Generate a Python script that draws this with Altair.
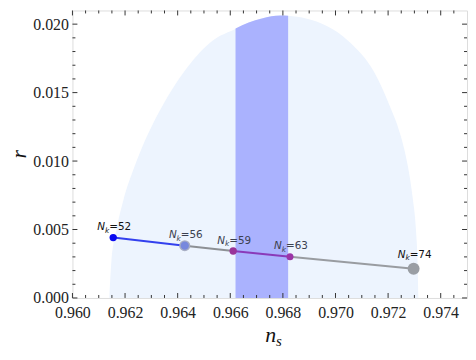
import altair as alt
import pandas as pd

# ---- data ----
# light contour region: upper boundary r(n_s), closed down to r = 0
reg_x = [0.96140, 0.96148, 0.96167, 0.96195, 0.96235, 0.96284, 0.96345, 0.96421,
         0.96529, 0.96621, 0.96670, 0.96719, 0.96756, 0.96793, 0.96818, 0.96965,
         0.97051, 0.97149, 0.97204, 0.97248, 0.97276, 0.97294, 0.97306, 0.97312, 0.97315]
reg_top = [0.0, 0.00264, 0.00494, 0.00724, 0.00954, 0.01184, 0.01414, 0.01643,
           0.01874, 0.01966, 0.02012, 0.02041, 0.02057, 0.02064, 0.02062, 0.01988,
           0.01874, 0.01643, 0.01414, 0.01184, 0.00954, 0.00724, 0.00494, 0.00264, 0.0]

# darker vertical band, clipped by the contour top
band_x = [0.9662, 0.9667, 0.9672, 0.96756, 0.9679, 0.9682]
band_top = [0.01968, 0.02012, 0.02041, 0.02057, 0.02064, 0.02062]

# model points
nk = [52, 56, 59, 63, 74]
ns = [0.96155, 0.96427, 0.96611, 0.96827, 0.97297]
rr = [0.00441, 0.00382, 0.00343, 0.00301, 0.00214]

# styles
pt_color = ["#0a0af0", "#7788dd", "#993399", "#9b35a8", "#9a9ea4"]
pt_size = [55, 70, 55, 50, 145]
halo_size = [0, 125, 0, 0, 0]
label_color = ["#111111", "#3c4150", "#3c4150", "#3c4150", "#111111"]
seg_color = ["#3340ee", "#8d9095", "#8a3ab9", "#999ca1"]

x_major = [0.960, 0.962, 0.964, 0.966, 0.968, 0.970, 0.972, 0.974]
x_minor = [0.9605, 0.961, 0.9615, 0.9625, 0.963, 0.9635, 0.9645, 0.965, 0.9655,
           0.9665, 0.967, 0.9675, 0.9685, 0.969, 0.9695, 0.9705, 0.971, 0.9715,
           0.9725, 0.973, 0.9735, 0.9745]
y_major = [0.000, 0.005, 0.010, 0.015, 0.020]
y_minor = [0.001, 0.002, 0.003, 0.004, 0.006, 0.007, 0.008, 0.009, 0.011, 0.012,
           0.013, 0.014, 0.016, 0.017, 0.018, 0.019]

SERIF = "Liberation Serif"
W, H = 398, 290
XDOM = [0.960, 0.975]
YDOM = [0.0, 0.021]

xs = alt.Scale(domain=XDOM, nice=False, zero=False)
ys = alt.Scale(domain=YDOM, nice=False, zero=False)
xax = alt.Axis(values=x_major, format=".3f", title=None, grid=False, ticks=False,
               tickSize=0, domain=False, labelPadding=7, labelFont=SERIF,
               labelFontSize=16, labelColor="#222222", labelFlush=False)
yax = alt.Axis(values=y_major, format=".3f", title=None, grid=False, ticks=False,
               tickSize=0, domain=False, labelPadding=4, labelFont=SERIF,
               labelFontSize=16, labelColor="#222222", labelFlush=False)


def X(f):
    return alt.X(f, type="quantitative", scale=xs, axis=xax)


def Y(f):
    return alt.Y(f, type="quantitative", scale=ys, axis=yax)


region_df = pd.DataFrame({"x": reg_x, "top": reg_top})
band_df = pd.DataFrame({"x": band_x, "top": band_top})
pts_df = pd.DataFrame({"nk": nk, "ns": ns, "r": rr, "color": pt_color, "size": pt_size,
                       "halo": halo_size, "lcolor": label_color,
                       "eq": ["=" + str(v) for v in nk]})

seg_rows = []
for i in range(len(nk) - 1):
    for j in (i, i + 1):
        seg_rows.append({"seg": i, "ns": ns[j], "r": rr[j], "color": seg_color[i], "o": j})
seg_df = pd.DataFrame(seg_rows)

region = alt.Chart(region_df).mark_area(color="#edf4fe", interpolate="monotone").encode(
    x=X("x"), y=Y("top"))
band = alt.Chart(band_df).mark_area(color="#aab2fe", interpolate="monotone").encode(
    x=X("x"), y=Y("top"))

lines = alt.Chart(seg_df).mark_line(strokeWidth=2).encode(
    x=X("ns"), y=Y("r"), detail="seg:N", order="o:Q",
    color=alt.Color("color:N", scale=None))

halo = alt.Chart(pts_df).transform_filter("datum.halo > 0").mark_circle(
    opacity=1, color="#a8aec4").encode(
    x=X("ns"), y=Y("r"), size=alt.Size("halo:Q", scale=None))
pts = alt.Chart(pts_df).mark_circle(opacity=1).encode(
    x=X("ns"), y=Y("r"), color=alt.Color("color:N", scale=None),
    size=alt.Size("size:Q", scale=None))


def label_layers(filt, dy):
    base = alt.Chart(pts_df).transform_filter(filt)
    enc = dict(x=X("ns"), y=Y("r"), color=alt.Color("lcolor:N", scale=None))
    n = base.mark_text(font="DejaVu Sans", fontStyle="italic", fontSize=10.5, align="left",
                       baseline="alphabetic", dx=-16, dy=dy).encode(text=alt.value("N"), **enc)
    k = base.mark_text(font="DejaVu Sans", fontStyle="italic", fontSize=7.5, align="left",
                       baseline="alphabetic", dx=-8.3, dy=dy + 2.5).encode(text=alt.value("k"), **enc)
    e = base.mark_text(font="DejaVu Sans", fontSize=10.5, align="left",
                       baseline="alphabetic", dx=-4, dy=dy).encode(text="eq:N", **enc)
    return [n, k, e]


labels = label_layers("datum.nk < 70", -7.5) + label_layers("datum.nk > 70", -11)

# inward ticks on all four sides
xmaj_df = pd.DataFrame({"v": x_major})
xmin_df = pd.DataFrame({"v": x_minor})
ymaj_df = pd.DataFrame({"v": y_major})
ymin_df = pd.DataFrame({"v": y_minor})
tick_layers = []
for df, L in ((xmaj_df, 5), (xmin_df, 3)):
    c = alt.Chart(df).mark_rule(color="#333333", strokeWidth=1)
    tick_layers.append(c.encode(x=X("v"), y=alt.value(H), y2=alt.value(H - L)))
    tick_layers.append(c.encode(x=X("v"), y=alt.value(0), y2=alt.value(L)))
for df, L in ((ymaj_df, 5), (ymin_df, 3)):
    c = alt.Chart(df).mark_rule(color="#333333", strokeWidth=1)
    tick_layers.append(c.encode(y=Y("v"), x=alt.value(0), x2=alt.value(L)))
    tick_layers.append(c.encode(y=Y("v"), x=alt.value(W), x2=alt.value(W - L)))

# axis titles
rtitle = alt.Chart(pts_df.head(1)).mark_text(
    font=SERIF, fontStyle="italic", fontSize=22, angle=270,
    align="center", baseline="middle", color="#111111").encode(
    x=alt.value(-54), y=alt.value(H / 2), text=alt.value("r"))
ntitle = alt.Chart(pts_df.head(1)).mark_text(
    font=SERIF, fontStyle="italic", fontSize=22, align="right",
    baseline="alphabetic", color="#111111").encode(
    x=alt.value(W * 0.516), y=alt.value(H + 44), text=alt.value("n"))
stitle = alt.Chart(pts_df.head(1)).mark_text(
    font=SERIF, fontStyle="italic", fontSize=15, align="left",
    baseline="alphabetic", color="#111111").encode(
    x=alt.value(W * 0.516), y=alt.value(H + 48), text=alt.value("s"))

chart = alt.layer(region, band, lines, halo, pts, *labels, *tick_layers,
                  rtitle, ntitle, stitle).properties(
    width=W, height=H, padding={"left": 0, "top": 0, "right": 0, "bottom": 0}
).configure_view(stroke="#222222", strokeWidth=1.2).configure(background="white")

chart.save("out.html", embed_options={"renderer": "svg", "actions": False})
